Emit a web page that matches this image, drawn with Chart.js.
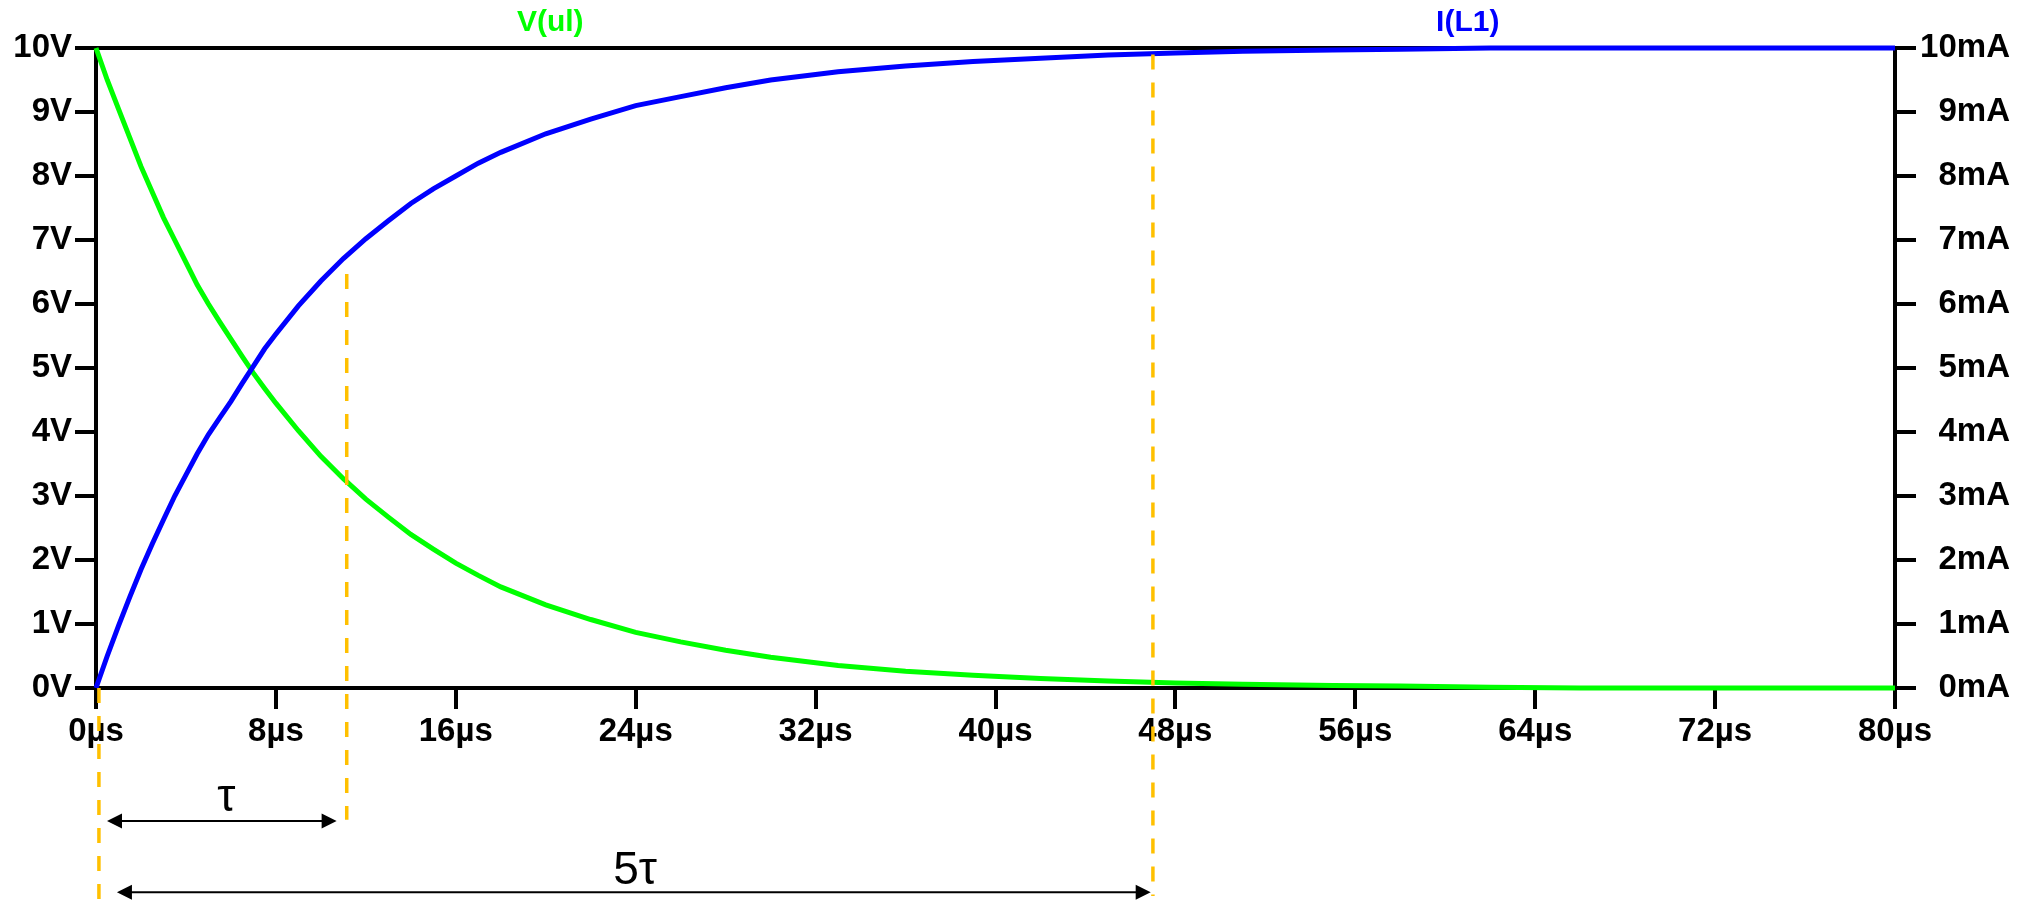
<!DOCTYPE html>
<html>
<head>
<meta charset="utf-8">
<title>V(ul) / I(L1)</title>
<script src="https://cdn.jsdelivr.net/npm/chart.js@4/dist/chart.umd.min.js"></script>
<style>
  html, body { margin: 0; padding: 0; background: #fff; }
  #wrap { width: 2024px; height: 900px; }
</style>
</head>
<body>
<div id="wrap"><canvas id="rlChart"></canvas></div>
<script>
// time in µs
const timeUs = [0, 0.5, 1, 1.5, 2, 2.5, 3, 3.5, 4, 4.5, 5, 5.5, 6, 6.5, 7, 7.5, 8, 9, 10, 11,
    12, 13, 14, 15, 16, 17, 18, 20, 22, 24, 26, 28, 30, 33, 36, 39, 42, 45, 48, 51, 55, 58, 62, 66, 70, 75, 80];
// V(ul) in volts
const voltageUl = [10, 9.5, 9.05, 8.6, 8.15, 7.75, 7.35, 7.0, 6.65, 6.3, 6.0, 5.72, 5.45, 5.18, 4.92, 4.68, 4.45, 4.02, 3.62, 3.27,
    2.95, 2.67, 2.4, 2.17, 1.95, 1.76, 1.58, 1.3, 1.07, 0.87, 0.72, 0.59, 0.48, 0.35, 0.26, 0.2, 0.15, 0.11, 0.08, 0.06, 0.04, 0.03, 0.01, 0, 0, 0, 0];
// I(L1) in mA
const currentL1 = [0, 0.5, 0.97, 1.42, 1.85, 2.25, 2.63, 3.0, 3.33, 3.66, 3.96, 4.22, 4.48, 4.76, 5.03, 5.3, 5.53, 5.97, 6.36, 6.71,
    7.02, 7.3, 7.57, 7.8, 8.0, 8.2, 8.37, 8.66, 8.89, 9.1, 9.24, 9.38, 9.5, 9.63, 9.72, 9.79, 9.84, 9.89, 9.92, 9.95, 9.97, 9.98, 10, 10, 10, 10, 10];

// tick labels
const timeTicks = [0, 8, 16, 24, 32, 40, 48, 56, 64, 72, 80];
const voltTicks = [0, 1, 2, 3, 4, 5, 6, 7, 8, 9, 10];
const ampTicks = [0, 1, 2, 3, 4, 5, 6, 7, 8, 9, 10];

// trace names on the top edge (at a time in µs)
const traceNames = ['V(ul)', 'I(L1)'];
const traceNameAt = [20.2, 61];
const traceColors = ['#00ff00', '#0000ff'];

// time constant markers: time in µs, running between two levels of the volt scale
const markerTimes = [0.13, 11.15, 47.0];
const markerFrom = [0, 6.47, 9.9];
const markerTo = [-3.3, -2.06, -3.25];

// span arrows below the axis
const spanLabels = ['τ', '5τ'];
const spanStart = [0.49, 0.93];
const spanEnd = [10.7, 46.9];
const spanLevel = [-2.08, -3.19];
const spanLabelAt = [5.8, 23.97];
const spanLabelLevel = [-1.92, -3.06];

const FONT = '"Liberation Sans", Arial, sans-serif';
Chart.defaults.font.family = FONT;
Chart.defaults.color = '#000';

function arrowHead(ctx, x, y, dir) {
    ctx.beginPath();
    ctx.moveTo(x, y);
    ctx.lineTo(x + dir * 15, y - 7.5);
    ctx.lineTo(x + dir * 15, y + 7.5);
    ctx.closePath();
    ctx.fill();
}

const spanPlugin = {
    id: 'spans',
    afterDraw(chart) {
        const { ctx, scales: { x, y } } = chart;
        ctx.save();

        // dashed markers
        ctx.strokeStyle = '#ffc000';
        ctx.lineWidth = 3.5;
        ctx.setLineDash([15, 13]);
        markerTimes.forEach((t, i) => {
            const px = x.getPixelForValue(t);
            ctx.beginPath();
            ctx.moveTo(px, y.getPixelForValue(markerFrom[i]));
            ctx.lineTo(px, y.getPixelForValue(markerTo[i]));
            ctx.stroke();
        });

        // arrows + labels
        ctx.setLineDash([]);
        ctx.strokeStyle = '#000';
        ctx.fillStyle = '#000';
        ctx.lineWidth = 2;
        ctx.font = '46px ' + FONT;
        ctx.textAlign = 'center';
        ctx.textBaseline = 'alphabetic';
        spanLabels.forEach((label, i) => {
            const x0 = x.getPixelForValue(spanStart[i]);
            const x1 = x.getPixelForValue(spanEnd[i]);
            const py = y.getPixelForValue(spanLevel[i]);
            ctx.beginPath();
            ctx.moveTo(x0 + 10, py);
            ctx.lineTo(x1 - 10, py);
            ctx.stroke();
            arrowHead(ctx, x0, py, 1);
            arrowHead(ctx, x1, py, -1);
            ctx.fillText(label, x.getPixelForValue(spanLabelAt[i]), y.getPixelForValue(spanLabelLevel[i]));
        });
        ctx.restore();
    }
};

const tickFont = { size: 33, weight: 'bold' };
const axisBorder = { display: true, color: '#000', width: 4 };
const tickGrid = { drawOnChartArea: false, drawTicks: true, tickLength: 21, tickWidth: 4, tickColor: '#000', color: '#000', lineWidth: 4 };

new Chart(document.getElementById('rlChart'), {
    type: 'line',
    data: {
        datasets: [{
            label: 'I(L1)',
            data: timeUs.map((t, i) => ({ x: t, y: currentL1[i] })),
            yAxisID: 'y1',
            borderColor: '#0000ff',
            borderWidth: 5,
            pointRadius: 0,
            tension: 0,
            clip: 6
        }, {
            label: 'V(ul)',
            data: timeUs.map((t, i) => ({ x: t, y: voltageUl[i] })),
            yAxisID: 'y',
            borderColor: '#00ff00',
            borderWidth: 5,
            pointRadius: 0,
            tension: 0,
            clip: 6
        }]
    },
    options: {
        responsive: true,
        maintainAspectRatio: false,
        animation: false,
        layout: { padding: { left: 0, top: 0, bottom: 0, right: 14 } },
        scales: {
            x: {
                type: 'linear',
                position: 'bottom',
                min: 0,
                max: 80,
                afterBuildTicks: s => { s.ticks = timeTicks.map(v => ({ value: v })); },
                afterFit: s => { s.height = 212; },
                border: axisBorder,
                grid: tickGrid,
                ticks: { font: tickFont, padding: 3, maxRotation: 0, autoSkip: false, callback: v => v + 'µs' }
            },
            top: {
                type: 'linear',
                position: 'top',
                min: 0,
                max: 80,
                afterBuildTicks: s => { s.ticks = traceNameAt.map(v => ({ value: v })); },
                afterFit: s => { s.height = 48; },
                border: axisBorder,
                grid: { drawOnChartArea: false, drawTicks: false },
                ticks: {
                    font: { size: 30, weight: 'bold' },
                    padding: 7,
                    maxRotation: 0,
                    autoSkip: false,
                    color: c => traceColors[c.index],
                    callback: (v, i) => traceNames[i]
                }
            },
            y: {
                position: 'left',
                min: 0,
                max: 10,
                afterBuildTicks: s => { s.ticks = voltTicks.map(v => ({ value: v })); },
                afterFit: s => { s.width = 96; },
                border: axisBorder,
                grid: tickGrid,
                ticks: { font: tickFont, padding: 3, callback: v => v + 'V' }
            },
            y1: {
                position: 'right',
                min: 0,
                max: 10,
                afterBuildTicks: s => { s.ticks = ampTicks.map(v => ({ value: v })); },
                afterFit: s => { s.width = 115; },
                border: axisBorder,
                grid: tickGrid,
                ticks: { font: tickFont, padding: 6, crossAlign: 'far', callback: v => v + 'mA' }
            }
        },
        plugins: {
            legend: { display: false },
            tooltip: { enabled: false }
        }
    },
    plugins: [spanPlugin]
});
</script>
</body>
</html>
